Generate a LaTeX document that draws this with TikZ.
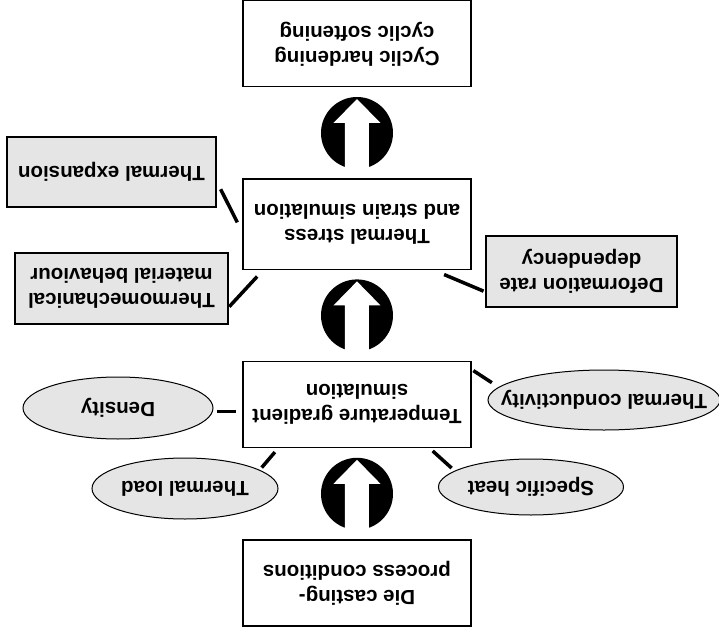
\documentclass[tikz,border=0pt]{standalone}
\usepackage{fontspec}
\setmainfont{Liberation Sans}
\usetikzlibrary{positioning,calc,shapes}
\newcommand{\lbl}[1]{\makebox[0pt]{#1}}
\tikzset{
  process/.style={rectangle,draw,line width=1.4pt,minimum width=228pt,
    minimum height=86pt,inner sep=0pt,align=center},
  factor/.style={rectangle,draw,line width=1.2pt,fill=black!10,inner sep=0pt,align=center},
  property/.style={ellipse,draw,line width=1pt,fill=black!10,inner sep=0pt},
  link/.style={line width=3.5pt},
  flowarrow/.pic={
    \fill (0,0) circle[radius=36pt];
    \fill[white] (-12,-37) -- (-12,10) -- (-23.5,10) -- (0,34) -- (23.5,10)
      -- (12,10) -- (12,-37) -- cycle;
  }
}
\begin{document}
\begin{tikzpicture}[x=1pt,y=-1pt,rotate=180,node distance=91pt,
  every node/.append style={transform shape,font=\bfseries\fontsize{20.5}{25}\selectfont}]
  \useasboundingbox (0,0) rectangle (719,630);
  \node[process] (die) at (362,47) {Die casting-\\process conditions};
  \node[process,below=of die] (temp) {Temperature gradient\\simulation};
  \node[process,below=of temp,minimum height=90pt] (stress) {Thermal stress\\and strain simulation};
  \node[process,below=of stress] (cyclic) {Cyclic hardening\\cyclic softening};
  \pic at ($(die.south)!.5!(temp.north)$) {flowarrow};
  \pic at ($(temp.south)!.5!(stress.north)$) {flowarrow};
  \pic at ($(stress.south)!.5!(cyclic.north)$) {flowarrow};
  \node[property,minimum width=186pt,minimum height=61pt] (load) at (534,141.5) {\lbl{Thermal load}};
  \node[property,minimum width=185pt,minimum height=56pt] (heat) at (188,143) {\lbl{Specific heat}};
  \node[property,minimum width=190pt,minimum height=62pt] (dens) at (601,222) {\lbl{Density}};
  \node[property,minimum width=232pt,minimum height=60pt] (cond) at (115,230) {\lbl{Thermal conductivity}};
  \node[factor,minimum width=213pt,minimum height=71pt] (mech) at (597.5,341.5) {Thermomechanical\\material behaviour};
  \node[factor,minimum width=191pt,minimum height=71pt] (rate) at (137.5,358.5) {Deformation rate\\dependency};
  \node[factor,minimum width=209pt,minimum height=70pt] (expan) at (607.5,458) {Thermal expansion};
  \draw[link,shorten <=3pt,shorten >=5pt] (load.194) -- (temp.29);
  \draw[link,shorten <=4pt,shorten >=4pt] (heat.348) -- (temp.149);
  \draw[link,shorten <=4pt,shorten >=6pt] (dens.178) -- (dens.178 -| temp.east);
  \draw[link,shorten <=8pt,shorten >=2pt] (cond.353) -- (temp.197);
  \draw[link,shorten <=1pt,shorten >=9pt] (mech.170) -- (stress.26);
  \draw[link,shorten <=2pt,shorten >=12pt] (rate.12) -- (stress.149);
  \draw[link,shorten <=9pt,shorten >=11pt] (expan.175) -- (stress.4);
\end{tikzpicture}
\end{document}
